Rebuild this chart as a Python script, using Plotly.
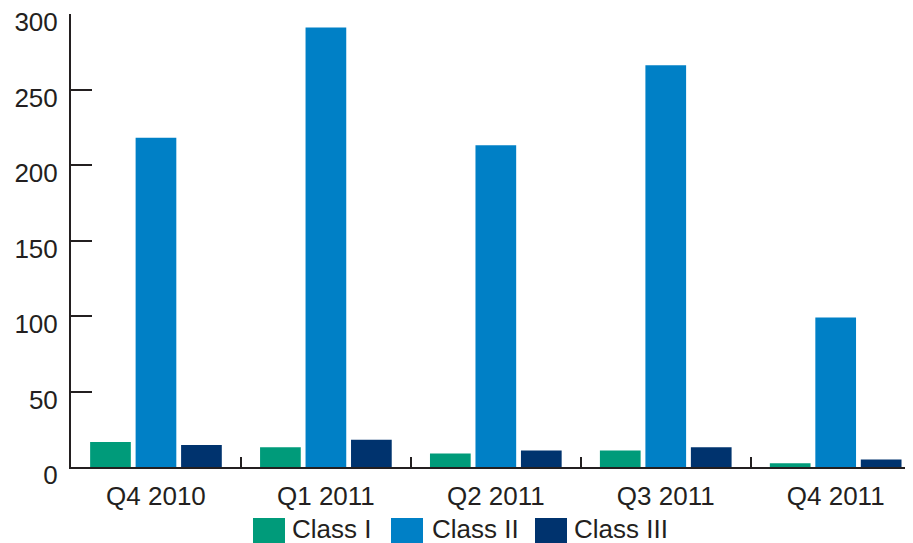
import plotly.graph_objects as go

categories = ["Q4 2010", "Q1 2011", "Q2 2011", "Q3 2011", "Q4 2011"]
class_i = [16.5, 13, 9, 11, 2.5]
class_ii = [218, 291, 213, 266, 99]
class_iii = [14.5, 18, 11, 13, 5]
series_names = ["Class I", "Class II", "Class III"]
colors = ["#009b7a", "#0080c6", "#00336e"]
y_ticks = [0, 50, 100, 150, 200, 250, 300]

TXT = "#231f20"
FONT = "Liberation Sans, Arial, Helvetica, sans-serif"
# the page body has an 8px margin, so the figure is drawn at (8, 8)
W, H = 905, 535
ML, MR, MT, MB = 63, 0, 6, 76
PW, PH = W - ML - MR, H - MT - MB

fig = go.Figure()
for name, vals, col in zip(series_names, [class_i, class_ii, class_iii], colors):
    fig.add_trace(go.Bar(x=categories, y=vals, name=name, showlegend=False,
                         marker=dict(color=col, line=dict(width=0))))

# custom legend (large swatches like the reference), figure pixel positions
legend_swatch_px = [245, 383, 527]
legend_text_px = [282, 422, 564]
sw_w, sw_top, sw_bot = 32, 510, 535
def px2x(px):
    return (px - ML) / PW
def py2y(py):
    return (H - MB - py) / PH
shapes, annots = [], []
for name, col, sx, tx in zip(series_names, colors, legend_swatch_px, legend_text_px):
    shapes.append(dict(type="rect", xref="paper", yref="paper",
                       x0=px2x(sx), x1=px2x(sx + sw_w), y0=py2y(sw_bot), y1=py2y(sw_top),
                       fillcolor=col, line=dict(width=0), layer="above"))
    annots.append(dict(xref="paper", yref="paper", x=px2x(tx), y=py2y(521),
                       xanchor="left", yanchor="middle", text=name, showarrow=False,
                       font=dict(size=26, color=TXT, family=FONT)))

fig.update_layout(
    width=W, height=H,
    margin=dict(l=ML, r=MR, t=MT, b=MB),
    paper_bgcolor="white", plot_bgcolor="white",
    barmode="group", bargap=0.197, bargroupgap=0.105,
    font=dict(family=FONT, size=26, color=TXT),
    showlegend=False,
    shapes=shapes, annotations=annots,
    xaxis=dict(type="category", range=[-0.5, 4.455],
               tickson="boundaries", ticks="inside", ticklen=10, tickwidth=2,
               tickcolor=TXT, showline=True, linecolor=TXT, linewidth=2,
               showgrid=False, zeroline=False, fixedrange=True, automargin=False,
               ticklabelstandoff=5, ticklabeloverflow="allow",
               tickfont=dict(size=26, color=TXT)),
    yaxis=dict(range=[0, 300.0001], tickmode="array", tickvals=y_ticks,
               ticks="inside", ticklen=21, tickwidth=2, tickcolor=TXT,
               showline=True, linecolor=TXT, linewidth=2,
               showgrid=False, zeroline=False, fixedrange=True, automargin=False,
               ticklabelstandoff=6, ticklabelshift=8, ticklabeloverflow="allow",
               tickfont=dict(size=26, color=TXT)),
)

fig.write_html("out.html")
